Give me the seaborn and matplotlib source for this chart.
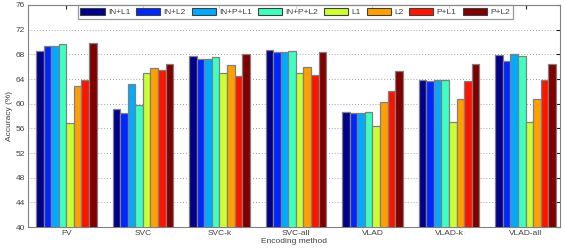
import pandas as pd
import numpy as np
import matplotlib.pyplot as plt
import seaborn as sns

# =========================
# Data
# =========================

methods = ["FV", "SVC", "SVC-k", "SVC-all", "VLAD", "VLAD-k", "VLAD-all"]
settings = ["IN+L1", "IN+L2", "IN+P+L1", "IN+P+L2", "L1", "L2", "P+L1", "P+L2"]

in_l1 = [68.5, 59.1, 67.7, 68.7, 58.6, 63.9, 67.9]
in_l2 = [69.3, 58.5, 67.3, 68.4, 58.5, 63.7, 66.9]
in_p_l1 = [69.4, 63.2, 67.3, 68.3, 58.5, 63.9, 68.1]
in_p_l2 = [69.6, 59.8, 67.5, 68.6, 58.7, 63.9, 67.7]
l1 = [56.8, 64.9, 65.0, 64.9, 56.4, 57.1, 57.1]
l2 = [62.9, 65.8, 66.3, 66.0, 60.2, 60.7, 60.7]
p_l1 = [63.9, 65.4, 64.5, 64.7, 62.0, 63.7, 63.8]
p_l2 = [69.9, 66.5, 68.1, 68.4, 65.3, 66.5, 66.5]

colors = ["#000088", "#0026ff", "#00aaff", "#3dffc0",
          "#ccff33", "#ffa000", "#ff1400", "#800000"]

series = [in_l1, in_l2, in_p_l1, in_p_l2, l1, l2, p_l1, p_l2]
rows = []
for name, vals in zip(settings, series):
    for m, v in zip(methods, vals):
        rows.append({"method": m, "setting": name, "acc": v})
df = pd.DataFrame(rows)

# =========================
# Plot
# =========================

sns.set_style("white")
plt.rcParams["font.family"] = ["Liberation Sans", "DejaVu Sans"]

fig = plt.figure(figsize=(5.65, 2.49), dpi=100)
ax = fig.add_axes([0.0496, 0.088, 0.9416, 0.892])

sns.barplot(data=df, x="method", y="acc", hue="setting",
            order=methods, hue_order=settings, palette=colors,
            saturation=1, width=0.79, edgecolor="#808080", linewidth=0.9,
            errorbar=None, ax=ax, zorder=3)

ax.set_ylim(40, 76)
ax.set_xlim(-0.5, 6.45)
ax.set_yticks(np.arange(40, 77, 4))

ax.yaxis.grid(True, linestyle=(0, (1, 2.5)), color="#888888", linewidth=0.6, zorder=0)
ax.xaxis.grid(False)
ax.set_axisbelow(True)

for s in ax.spines.values():
    s.set_color("#808080")
    s.set_linewidth(0.8)

ax.tick_params(axis="both", direction="in", length=3, width=0.8,
               color="#202020", labelsize=6, labelcolor="#404040",
               top=True, right=True, pad=2)

ax.set_xlabel("Encoding method", fontsize=6, color="#404040", labelpad=1)
ax.set_ylabel("Accuracy (%)", fontsize=6, color="#404040", labelpad=2)

leg = ax.legend(loc="upper center", bbox_to_anchor=(0.502, 1.0), ncol=8,
                frameon=True, fancybox=False, fontsize=6,
                handlelength=2.9, handleheight=1.0, handletextpad=0.4,
                columnspacing=0.7, borderpad=0.35, borderaxespad=0)
leg.get_frame().set_edgecolor("#808080")
leg.get_frame().set_linewidth(0.9)
for t in leg.get_texts():
    t.set_color("#404040")
for h in leg.legend_handles:
    h.set_edgecolor("#404040")
    h.set_linewidth(0.8)

fig.savefig("out.png", dpi=100)
